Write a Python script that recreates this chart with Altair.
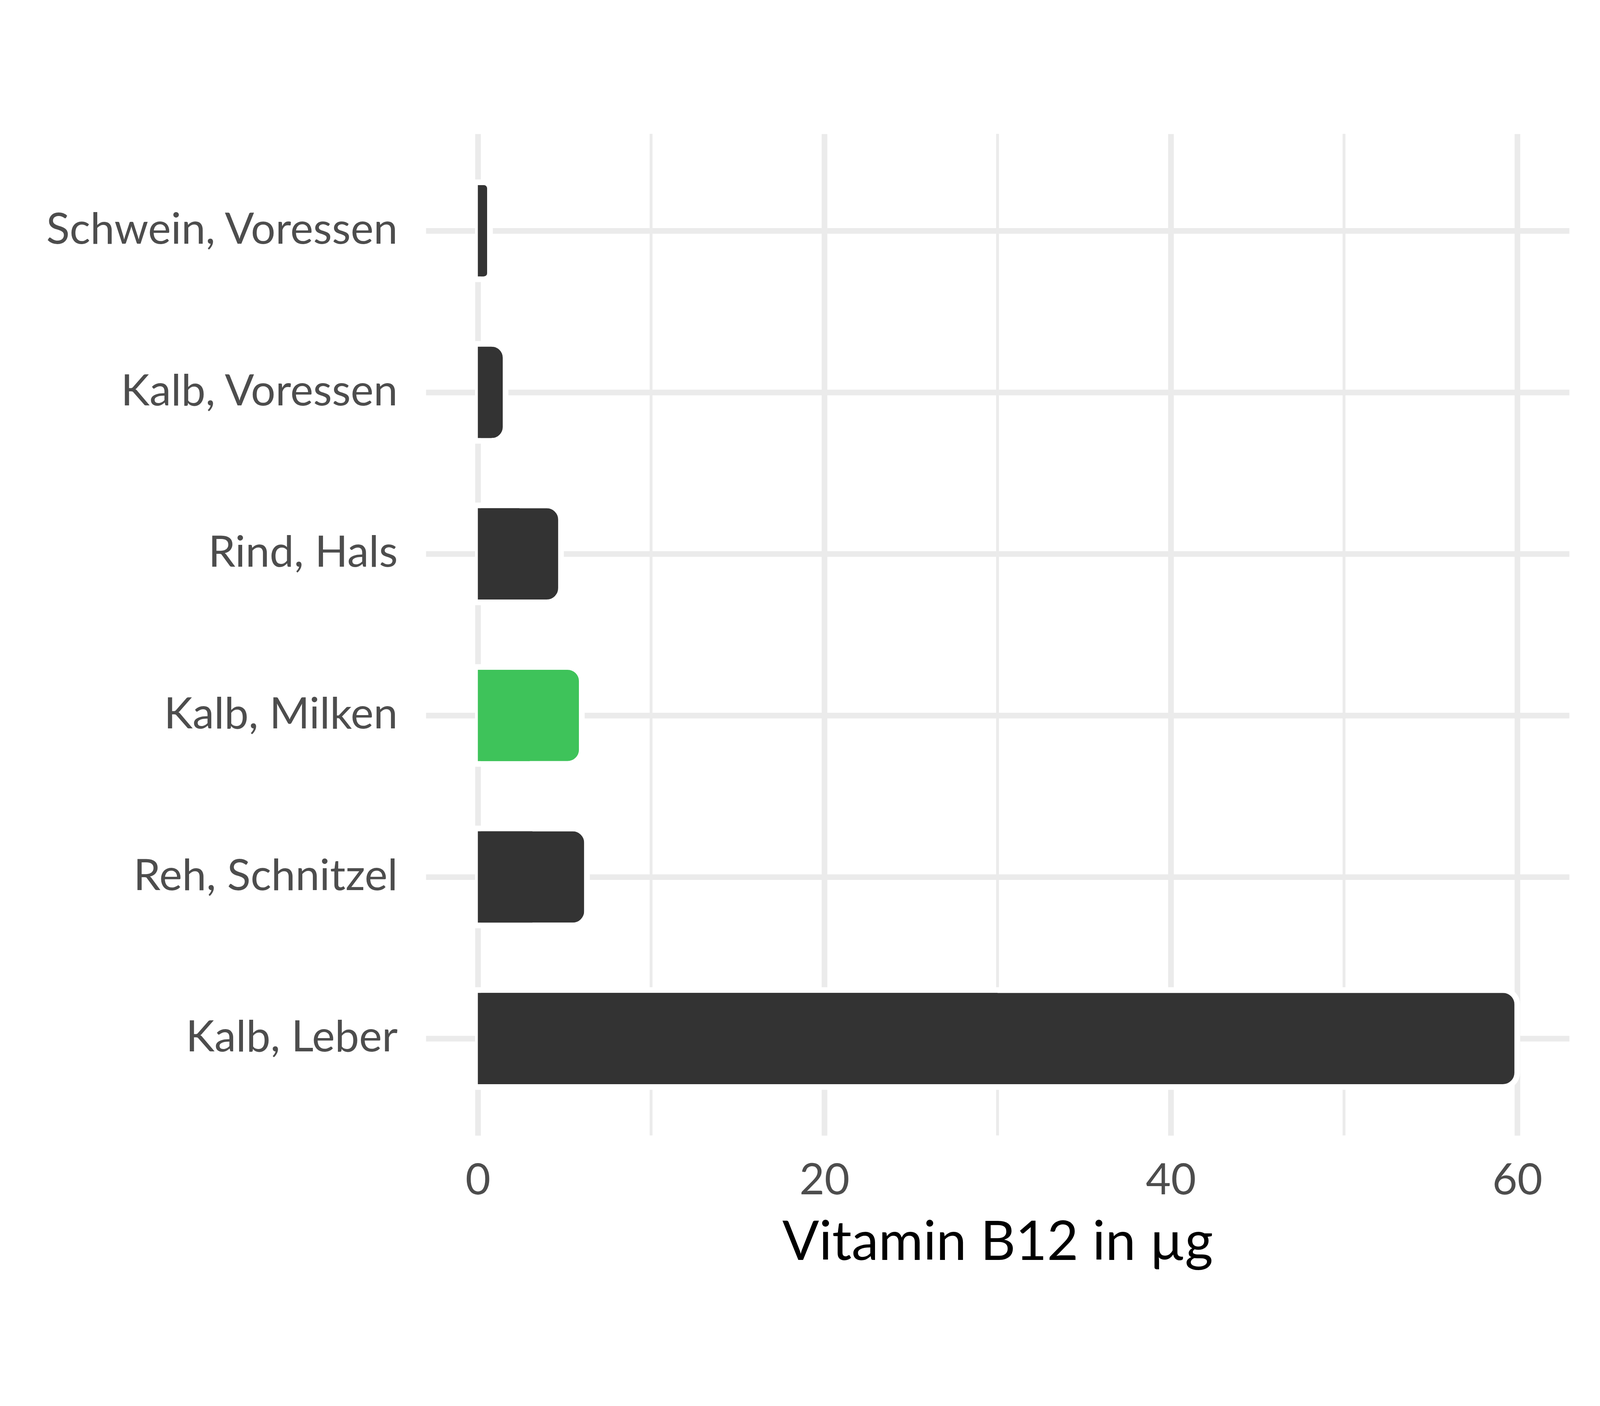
import altair as alt
import pandas as pd

categories = ["Schwein, Voressen", "Kalb, Voressen", "Rind, Hals",
              "Kalb, Milken", "Reh, Schnitzel", "Kalb, Leber"]
values = [0.7, 1.6, 4.8, 6.0, 6.3, 60.0]
highlight = ["Kalb, Milken"]
x_ticks = [0, 20, 40, 60]
x_minor = [10, 30, 50]

df = pd.DataFrame({"food": categories, "value": values})
df["group"] = ["hl" if c in highlight else "base" for c in categories]
minor_df = pd.DataFrame({"m": x_minor})

FONT = "Lato"
GRID = "#EBEBEB"
GW = 17

xscale = alt.Scale(domain=[-3, 63], nice=False, zero=False)
yscale = alt.Scale(domain=categories, paddingInner=0.4, paddingOuter=0.3)
color = alt.Color("group:N", scale=alt.Scale(domain=["base", "hl"], range=["#333333", "#3EC35A"]), legend=None)

xaxis = alt.Axis(values=x_ticks, grid=True, gridColor=GRID, gridWidth=GW, domain=False, ticks=False,
                 labelPadding=73, labelFontSize=130, labelColor="#4D4D4D", labelFont=FONT,
                 title="Vitamin B12 in µg", titleFont=FONT, titleFontSize=163, titleColor="#000000",
                 titleFontWeight="normal", titlePadding=44)
yaxis = alt.Axis(grid=True, gridColor=GRID, gridWidth=GW, domain=False, ticks=False,
                 labelPadding=85, labelFontSize=130, labelColor="#4D4D4D", labelFont=FONT,
                 labelLimit=3000, title=None)

minor = alt.Chart(minor_df).mark_rule(color=GRID, strokeWidth=GW / 2).encode(
    x=alt.X("m:Q", scale=xscale, axis=xaxis)
)

bars = alt.Chart(df).mark_bar(cornerRadiusEnd=43, stroke="white", strokeWidth=GW).encode(
    y=alt.Y("food:N", sort=categories, scale=yscale, axis=yaxis),
    x=alt.X("value:Q", scale=xscale, axis=xaxis),
    color=color,
)

overlay = alt.Chart(df).transform_calculate(half="datum.value / 2").mark_bar(height=274).encode(
    y=alt.Y("food:N", sort=categories, scale=yscale, axis=yaxis),
    x=alt.X("half:Q", scale=xscale, axis=xaxis),
    color=color,
)

chart = alt.layer(minor, bars, overlay).properties(
    width=3432, height=3007,
    background="white",
    autosize=alt.AutoSizeParams(type="none"),
    padding={"left": 1269, "top": 84, "right": 83, "bottom": 485},
).configure_view(strokeWidth=0, stroke="transparent")

chart.save("out.html", embed_options={"renderer": "svg", "actions": False})
